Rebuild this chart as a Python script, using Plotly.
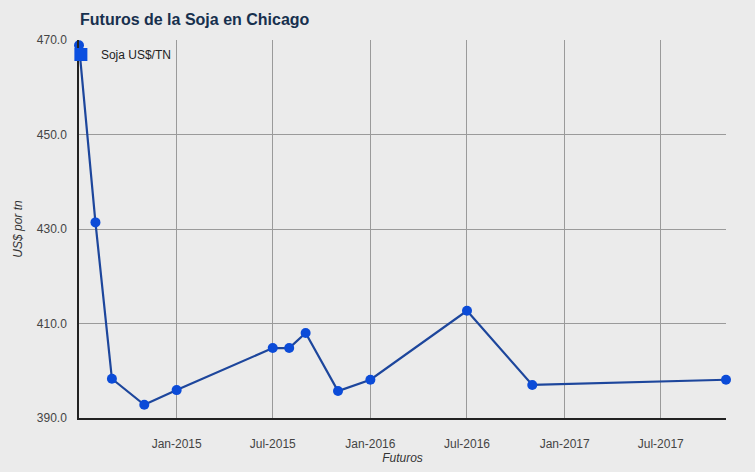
import plotly.graph_objects as go

# Data
fechas = ["2014-07-01", "2014-08-01", "2014-09-01", "2014-11-01", "2015-01-01",
          "2015-07-01", "2015-08-01", "2015-09-01", "2015-11-01", "2016-01-01",
          "2016-07-01", "2016-11-01", "2017-11-01"]
precios = [468.9, 431.4, 398.3, 392.8, 395.9,
           404.8, 404.8, 408.0, 395.7, 398.1,
           412.7, 397.0, 398.1]
x_ticks = ["2015-01-01", "2015-07-01", "2016-01-01", "2016-07-01",
           "2017-01-01", "2017-07-01"]
serie = "Soja US$/TN"
titulo = "Futuros de la Soja en Chicago"
x_titulo = "Futuros"
y_titulo = "US$ por tn"

FONT = "Arial, Liberation Sans, sans-serif"
BG = "#ebebeb"

fig = go.Figure()
fig.add_trace(go.Scatter(
    x=fechas, y=precios, mode="lines+markers", showlegend=False,
    line=dict(color="#1d469c", width=2.2),
    marker=dict(color="#0b4bd8", size=10),
    cliponaxis=False,
))
# legend entry (square marker only)
fig.add_trace(go.Scatter(
    x=[None], y=[None], mode="markers", name=serie,
    marker=dict(color="#0b4fe0", size=13, symbol="square"),
))

fig.update_layout(
    width=755, height=472,
    margin=dict(l=79, r=29, t=40, b=54),
    paper_bgcolor=BG, plot_bgcolor=BG,
    font=dict(family=FONT, size=12, color="#444444"),
    title=dict(text="<b>" + titulo + "</b>", x=80 / 755, xanchor="left",
               y=1 - 19 / 472, yanchor="middle",
               font=dict(family=FONT, size=16, color="#17304e")),
    legend=dict(x=-0.028, xanchor="left", y=1.0, yanchor="top",
                bgcolor="rgba(0,0,0,0)", font=dict(family=FONT, size=12, color="#222222")),
    xaxis=dict(
        type="date", range=["2014-07-01", "2017-11-01"],
        tickvals=x_ticks, tickformat="%b-%Y", automargin=False,
        showgrid=True, gridcolor="#9a9a9a", gridwidth=1,
        showline=True, linecolor="#222222", linewidth=1.5,
        ticks="", zeroline=False, ticklabelstandoff=14,
        title=dict(text="<i>" + x_titulo + "</i>", standoff=2,
                   font=dict(family=FONT, size=12, color="#333333")),
    ),
    yaxis=dict(
        range=[390, 470], tick0=390, dtick=20, tickformat=".1f", automargin=False,
        showgrid=True, gridcolor="#9a9a9a", gridwidth=1,
        showline=True, linecolor="#222222", linewidth=1.5,
        ticks="", zeroline=False, ticklabelstandoff=8,
        title=dict(text="<i>" + y_titulo + "</i>", standoff=12,
                   font=dict(family=FONT, size=12, color="#333333")),
    ),
)

fig.write_html(
    "out.html",
    config={"displayModeBar": False},
    post_script="document.body.style.margin='0';document.body.style.background='#ebebeb';",
)
